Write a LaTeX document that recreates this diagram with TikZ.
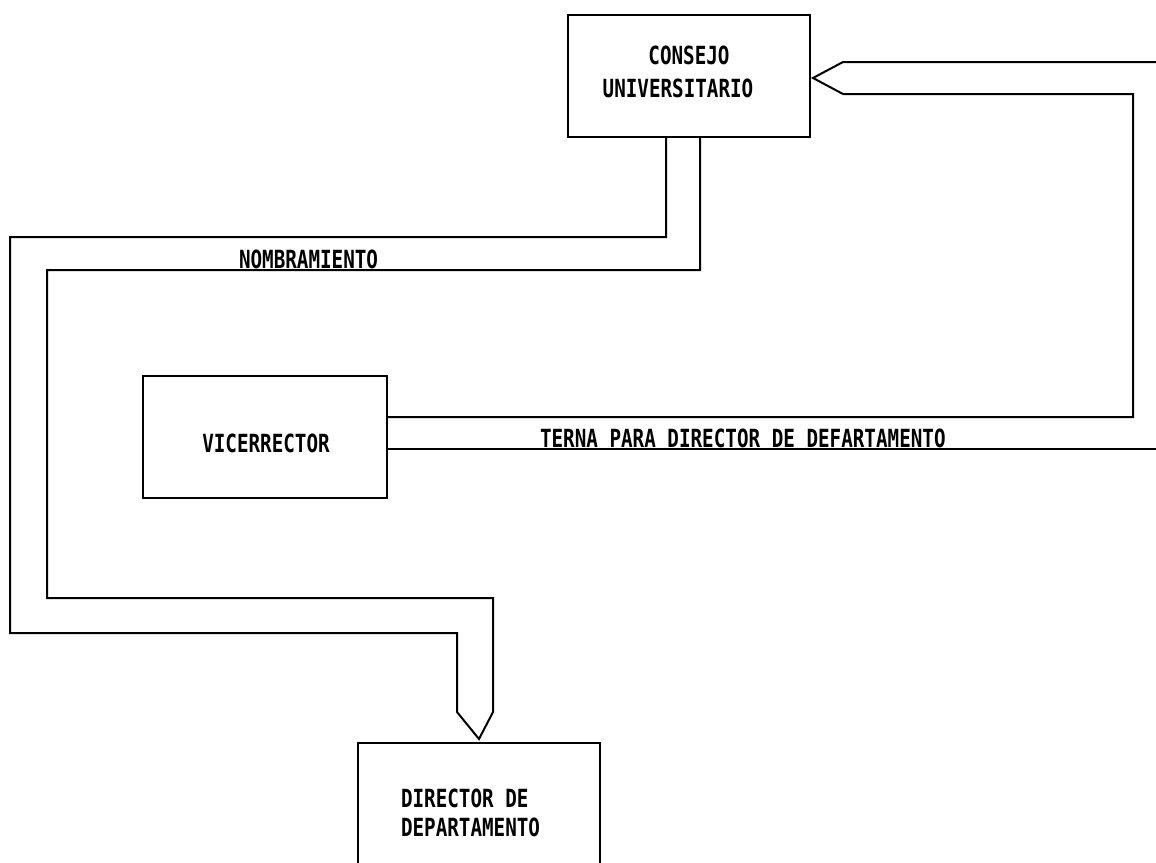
\documentclass[tikz,border=0pt]{standalone}
\usepackage{fontspec}
\newfontfamily\plotfont{DejaVu Sans Mono}[FakeStretch=0.77]
\begin{document}
\begin{tikzpicture}[x=1pt,y=-1pt,line width=2pt,
  box/.style={draw,rectangle,inner sep=0pt,outer sep=0pt},
  conn/.style={draw,line join=miter},
  lbl/.style={font=\plotfont\bfseries\fontsize{25}{30}\selectfont,inner sep=0pt}]
\useasboundingbox (0,0) rectangle (1156,862);
\clip (0,0) rectangle (1156,862);
% boxes
\node[box,minimum width=242pt,minimum height=122pt] (consejo) at (689,76) {};
\node[box,minimum width=244pt,minimum height=122pt] (vice) at (265,437) {};
\node[box,minimum width=242pt,minimum height=160pt] (director) at (479,823) {};
% texts
\node[lbl,anchor=base] (c1) at (689,64) {CONSEJO};
\node[lbl,anchor=base] (c2) at (678,97) {UNIVERSITARIO};
\node[lbl,anchor=base] (vicetext) at (266,452) {VICERRECTOR};
\node[lbl,anchor=base west] (d1) at (400,807) {DIRECTOR DE};
\node[lbl,anchor=base west] (d2) at (400,836) {DEPARTAMENTO};
\node[lbl,anchor=base west] (nom) at (238,268) {NOMBRAMIENTO};
\node[lbl,anchor=base west] (terna) at (539,447) {TERNA PARA DIRECTOR DE DEFARTAMENTO};
% free ends and tips
\coordinate (eR1) at (1156,62);
\coordinate (eR2) at (1156,449);
\coordinate (T1) at ([xshift=3pt,yshift=-2pt]consejo.east);
\coordinate (T2) at ([yshift=4pt]director.north);
% terna arrow (vicerrector -> consejo)
\draw[conn] (eR1) -- (843,62) -- (T1) -- (843,94) -- (1133,94) -- (1133,417) -- ([yshift=20pt]vice.east);
\draw[conn] ([yshift=-12pt]vice.east) -- (eR2);
% nombramiento arrow (consejo -> director)
\draw[conn] ([xshift=98pt]consejo.south west) -- ++(0,100) -- (10,237) -- (10,633) -- (457,633) -- (457,712)
  -- (T2) -- (493,712) -- (493,598) -- (47,598) -- (47,270) -- (700,270) -- ([xshift=132pt]consejo.south west);
\end{tikzpicture}
\end{document}
